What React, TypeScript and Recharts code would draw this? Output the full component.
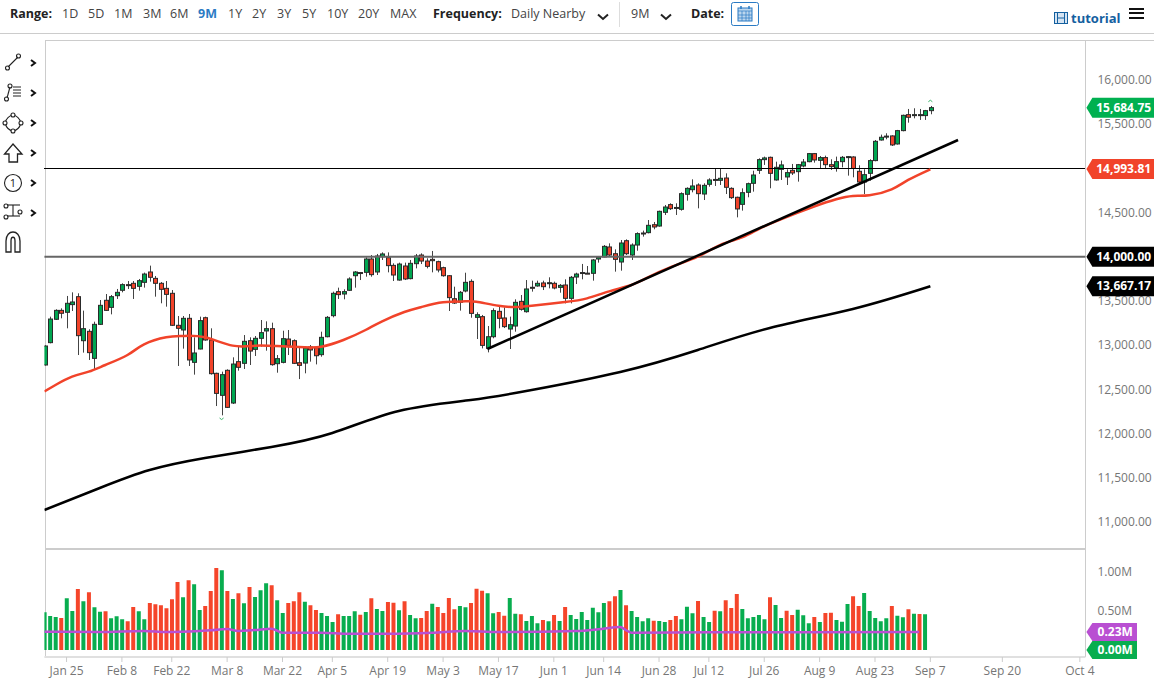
import { ComposedChart, Bar, Line, XAxis, YAxis, Cell, ReferenceLine, ReferenceDot } from "recharts";

const FONT = "'Open Sans', 'Noto Sans', sans-serif";
const GREEN = "#00a651";
const RED = "#f1432a";

// one row per trading day, index 0 is the first bar on the left
const opens = [
  12776, 13029, 13293, 13394, 13372, 13459, 13549, 13051, 13157, 12851, 13236, 13508, 13428, 13560, 13621, 13685, 13700, 13666, 13711, 13828,
  13756, 13700, 13643, 13587, 13225, 13172, 13304, 12806, 12957, 13311, 13059, 12682, 12433, 12716, 12346, 12814, 12795, 13051, 12953, 13078,
  13161, 13187, 12791, 12806, 13070, 13051, 12802, 12798, 12980, 12972, 12893, 13096, 13334, 13606, 13579, 13621, 13786, 13822, 13824, 13975,
  13828, 14001, 13990, 13903, 13737, 13896, 13753, 13922, 14020, 13952, 13971, 13945, 13877, 13786, 13526, 13485, 13613, 13722, 13315, 13323,
  12964, 13096, 13383, 13308, 13183, 13217, 13496, 13379, 13655, 13670, 13704, 13696, 13700, 13654, 13681, 13530, 13771, 13822, 13815, 13813,
  13975, 13998, 14111, 14035, 13941, 14182, 14020, 14133, 14266, 14273, 14363, 14348, 14503, 14590, 14558, 14537, 14707, 14759, 14812, 14710,
  14820, 14875, 14865, 14891, 14774, 14673, 14593, 14729, 14831, 14978, 15099, 15125, 14869, 14989, 14903, 14978, 14963, 15027, 15076, 15167,
  15091, 15122, 15042, 15005, 15076, 15122, 15129, 14967, 14846, 14944, 15088, 15321, 15361, 15367, 15276, 15427, 15608, 15606, 15606, 15597,
  15653,
];
const closes = [
  12991, 13296, 13394, 13361, 13474, 13489, 13108, 13187, 12916, 13236, 13451, 13394, 13549, 13598, 13685, 13680, 13643, 13730, 13805, 13768,
  13700, 13632, 13575, 13225, 13191, 13304, 12833, 12912, 13278, 13059, 12678, 12455, 12667, 12297, 12787, 12750, 13044, 12934, 13078, 13142,
  13187, 12780, 12848, 13074, 12998, 12795, 12772, 12968, 12946, 12881, 13089, 13315, 13587, 13572, 13606, 13749, 13828, 13818, 13975, 13798,
  14009, 14032, 13900, 13794, 13918, 13749, 13926, 14009, 13952, 13892, 13956, 13851, 13786, 13538, 13477, 13598, 13711, 13360, 13345, 12998,
  13096, 13391, 13304, 13210, 13232, 13485, 13406, 13636, 13651, 13700, 13662, 13707, 13647, 13677, 13530, 13768, 13805, 13820, 13813, 13964,
  13994, 14118, 14020, 13971, 14156, 14035, 14133, 14262, 14269, 14356, 14337, 14514, 14563, 14544, 14556, 14714, 14774, 14801, 14714, 14808,
  14869, 14873, 14888, 14786, 14669, 14541, 14725, 14827, 14925, 15099, 15118, 14944, 15012, 15039, 14952, 14948, 15042, 15072, 15167, 15095,
  15122, 15042, 15020, 15076, 15125, 15133, 14999, 14846, 14929, 15088, 15306, 15352, 15365, 15265, 15427, 15600, 15578, 15608, 15608, 15653,
  15687,
];
const highs = [
  13000, 13323, 13406, 13417, 13557, 13598, 13587, 13391, 13180, 13266, 13511, 13579, 13568, 13636, 13700, 13726, 13726, 13749, 13821, 13900,
  13783, 13715, 13726, 13624, 13330, 13330, 13353, 13089, 13323, 13323, 13191, 12689, 12701, 12727, 12863, 12983, 13115, 13089, 13104, 13285,
  13270, 13255, 12889, 13164, 13172, 13066, 12983, 12983, 13002, 12991, 13153, 13330, 13606, 13651, 13632, 13768, 13839, 13828, 13994, 14020,
  14032, 14050, 14050, 13926, 13934, 13934, 13964, 14032, 14039, 13983, 14066, 13956, 13888, 13794, 13662, 13613, 13820, 13745, 13372, 13342,
  13217, 13417, 13443, 13428, 13323, 13519, 13568, 13737, 13730, 13730, 13730, 13768, 13719, 13692, 13745, 13783, 13820, 13919, 13896, 13975,
  14009, 14133, 14152, 14084, 14190, 14197, 14152, 14277, 14296, 14416, 14394, 14522, 14586, 14605, 14605, 14729, 14786, 14876, 14831, 14831,
  14888, 15001, 15001, 14944, 14786, 14680, 14774, 14839, 14974, 15114, 15133, 15133, 15076, 15088, 14990, 15050, 15050, 15106, 15174, 15174,
  15140, 15144, 15103, 15133, 15140, 15140, 15137, 15035, 14990, 15103, 15321, 15382, 15397, 15374, 15435, 15608, 15672, 15680, 15672, 15661,
  15706,
];
const lows = [
  12770, 13021, 13285, 13304, 13191, 13387, 12889, 12916, 12833, 12727, 13229, 13387, 13349, 13523, 13598, 13636, 13523, 13617, 13651, 13719,
  13549, 13474, 13436, 13217, 12765, 12961, 12765, 12667, 12953, 13051, 12667, 12312, 12207, 12290, 12335, 12712, 12731, 12776, 12878, 12983,
  12938, 12768, 12689, 12795, 12889, 12787, 12617, 12682, 12814, 12783, 12870, 13089, 13315, 13523, 13519, 13613, 13651, 13737, 13775, 13775,
  13794, 13964, 13824, 13726, 13730, 13737, 13745, 13869, 13918, 13869, 13824, 13824, 13775, 13387, 13466, 13391, 13598, 13311, 13070, 12964,
  12919, 13078, 13191, 13194, 12957, 13153, 13391, 13368, 13606, 13662, 13624, 13643, 13632, 13594, 13473, 13473, 13692, 13745, 13809, 13730,
  13934, 13994, 14001, 13832, 13843, 14020, 13964, 14069, 14228, 14265, 14311, 14341, 14473, 14529, 14473, 14522, 14635, 14729, 14548, 14642,
  14793, 14801, 14812, 14710, 14654, 14446, 14522, 14673, 14737, 14937, 15039, 14775, 14861, 14869, 14812, 14925, 14850, 15012, 15069, 15065,
  15001, 15001, 14982, 14963, 15012, 14918, 14899, 14812, 14710, 14861, 15080, 15314, 15329, 15253, 15269, 15419, 15517, 15566, 15548, 15548,
  15612,
];

// moving averages are read at a few points along each line
const redAvgIdx = [0, 2, 5, 8, 11, 15, 18, 22, 25, 29, 34, 38, 42, 47, 50, 54, 58, 61, 65, 68, 72, 76, 78, 82, 85, 88, 94, 98, 102, 106, 109, 113, 118, 122, 126, 129, 133, 139, 143, 146, 149, 153, 156, 160];
const redAvg = [12478, 12550, 12644, 12701, 12776, 12889, 13010, 13089, 13104, 13089, 12995, 12995, 12991, 12976, 12983, 13059, 13172, 13270, 13375, 13430, 13485, 13496, 13492, 13447, 13432, 13447, 13488, 13530, 13609, 13681, 13768, 13881, 14001, 14133, 14220, 14314, 14424, 14567, 14650, 14688, 14695, 14763, 14869, 14990];
const blackAvgIdx = [0, 10, 19, 29, 41, 52, 64, 77, 88, 104, 118, 131, 146, 160];
const blackAvg = [11136, 11385, 11588, 11724, 11849, 12007, 12256, 12380, 12493, 12697, 12946, 13195, 13410, 13667];

const volumes = [
  0.483, 0.436, 0.423, 0.41, 0.662, 0.5, 0.782, 0.624, 0.739, 0.547, 0.491, 0.496, 0.406, 0.432, 0.393, 0.368, 0.551, 0.496, 0.393, 0.603,
  0.585, 0.573, 0.534, 0.65, 0.872, 0.675, 0.893, 0.842, 0.513, 0.564, 0.756, 1.051, 1.021, 0.756, 0.654, 0.726, 0.598, 0.808, 0.679, 0.765,
  0.855, 0.829, 0.637, 0.474, 0.603, 0.624, 0.739, 0.62, 0.573, 0.513, 0.474, 0.436, 0.359, 0.457, 0.436, 0.436, 0.496, 0.453, 0.487, 0.662,
  0.526, 0.5, 0.615, 0.607, 0.509, 0.624, 0.449, 0.406, 0.41, 0.5, 0.594, 0.551, 0.474, 0.667, 0.521, 0.564, 0.547, 0.603, 0.786, 0.761,
  0.726, 0.47, 0.487, 0.44, 0.667, 0.466, 0.457, 0.372, 0.436, 0.342, 0.385, 0.368, 0.449, 0.372, 0.551, 0.449, 0.397, 0.487, 0.385, 0.543,
  0.483, 0.603, 0.624, 0.688, 0.769, 0.573, 0.5, 0.423, 0.368, 0.406, 0.376, 0.372, 0.359, 0.385, 0.436, 0.393, 0.556, 0.47, 0.628, 0.423,
  0.359, 0.504, 0.496, 0.637, 0.538, 0.718, 0.526, 0.406, 0.423, 0.449, 0.393, 0.675, 0.577, 0.41, 0.504, 0.449, 0.517, 0.444, 0.342, 0.423,
  0.359, 0.474, 0.479, 0.385, 0.363, 0.59, 0.688, 0.564, 0.731, 0.5, 0.41, 0.368, 0.406, 0.564, 0.44, 0.419, 0.521, 0.466, 0.462, 0.457,
];
// g or r for every volume bar, ten to a row
const volumeSides = [
  "gggrggrgrg",
  "grgggrrggr",
  "rrrrrgrggr",
  "rrgrgrgrgg",
  "grggrrrgrr",
  "gggrgggrgr",
  "ggrrgrggrr",
  "grrrrggrrr",
  "ggrrggrggg",
  "rgrgrggggg",
  "ggrrgrgggg",
  "rggrrgggrg",
  "grgrrrgggg",
  "grggrrgggr",
  "grrgggrrgg",
  "gggrggrgrg",
].join("");
const volAvgIdx = [0, 10, 18, 22, 28, 30, 33, 35, 38, 41, 43, 50, 55, 62, 70, 76, 82, 96, 100, 104, 105, 106, 120, 158];
const volAvg = [0.235, 0.231, 0.244, 0.231, 0.244, 0.252, 0.269, 0.244, 0.256, 0.274, 0.222, 0.222, 0.209, 0.209, 0.222, 0.244, 0.231, 0.244, 0.265, 0.295, 0.256, 0.222, 0.226, 0.231];

const tickIdx = [4, 14, 23, 33, 43, 52, 62, 72, 82, 92, 101, 111, 120, 130, 140, 150, 160, 173, 187];
const tickLabels = ["Jan 25", "Feb 8", "Feb 22", "Mar 8", "Mar 22", "Apr 5", "Apr 19", "May 3", "May 17", "Jun 1", "Jun 14", "Jun 28", "Jul 12", "Jul 26", "Aug 9", "Aug 23", "Sep 7", "Sep 20", "Oct 4"];
const priceTicks = [11000, 11500, 12000, 12500, 13000, 13500, 14000, 14500, 15000, 15500, 16000];
const volumeTicks = [0.5, 1];
const rangeItems: [string, number][] = [["1D", 62], ["5D", 88], ["1M", 114], ["3M", 143], ["6M", 170], ["9M", 198], ["1Y", 228], ["2Y", 252], ["3Y", 277], ["5Y", 302], ["10Y", 327], ["20Y", 358], ["MAX", 390]];

const table = opens.map((open, i) => {
  const r = redAvgIdx.indexOf(i);
  const b = blackAvgIdx.indexOf(i);
  return {
    i,
    open,
    close: closes[i],
    high: highs[i],
    low: lows[i],
    red: r >= 0 ? redAvg[r] : null,
    black: b >= 0 ? blackAvg[b] : null,
  };
});

const volumeTable = volumes.map((volume, i) => {
  const a = volAvgIdx.indexOf(i);
  return { i, volume, avg: a >= 0 ? volAvg[a] : null };
});

// wick and body are placed from the y and height recharts gives the low-high range
function Candle(props: any) {
  const { x, y, width, height, payload } = props;
  if (!payload) return null;
  const { open, close, high, low } = payload;
  const perPoint = height / (high - low);
  const cx = Math.round(x + width / 2) + 0.5;
  const top = y + (high - Math.max(open, close)) * perPoint;
  const bodyHeight = Math.abs(open - close) * perPoint;
  const up = close >= open;
  return (
    <g>
      <line x1={cx} x2={cx} y1={y} y2={y + height} stroke="#444" strokeWidth={1} />
      <rect x={cx - 2} y={top} width={4} height={Math.max(bodyHeight, 1)} fill={up ? GREEN : RED} stroke="#2a2a2a" strokeWidth={1} />
    </g>
  );
}

function Tag({ cx, cy, text, fill, right, size }: any) {
  const x0 = cx + 1;
  const h = size === "small" ? 9 : 10;
  return (
    <g>
      <path d={`M${x0} ${cy} L${x0 + 6} ${cy - h} H${right} V${cy + h} H${x0 + 6} Z`} fill={fill} />
      <text x={(x0 + 7 + right) / 2} y={cy + 4} textAnchor="middle" fill="#fff" fontSize={12} fontWeight={700} fontFamily={FONT}>
        {text}
      </text>
    </g>
  );
}

function Blip({ cx, cy, flip }: any) {
  return <path d={flip ? `M${cx - 2} ${cy - 1} Q${cx} ${cy + 2} ${cx + 2} ${cy - 1}` : `M${cx - 2} ${cy + 1} Q${cx} ${cy - 2} ${cx + 2} ${cy + 1}`} fill="none" stroke="#39b56a" strokeWidth={1} />;
}

function ToolIcons() {
  const s = { fill: "none", stroke: "#222", strokeWidth: 1.1 };
  return (
    <svg width={44} height={240} style={{ position: "absolute", left: 0, top: 40 }}>
      <g {...s}>
        <line x1={8} y1={27} x2={18} y2={17} /><circle cx={7.5} cy={28} r={2} /><circle cx={18.5} cy={16} r={2} />
        <line x1={7} y1={58} x2={10} y2={47} /><circle cx={6.5} cy={59} r={2} /><circle cx={10} cy={46} r={2} />
        <path d="M13 47H21M13 50H21M13 53H21M13 56H21" />
        <path d="M13 75Q19 76 21 83Q19 90 13 91Q7 90 5 83Q7 76 13 75Z" /><circle cx={13} cy={75} r={2} fill="#fff" /><circle cx={21} cy={83} r={2} fill="#fff" /><circle cx={13} cy={91} r={2} fill="#fff" /><circle cx={5} cy={83} r={2} fill="#fff" />
        <path d="M13 104L22 114H17.5V122H9V114H4.5Z" strokeWidth={1.3} />
        <circle cx={13} cy={143} r={8.5} />
        <line x1={7} y1={165} x2={20} y2={165} /><line x1={7} y1={176} x2={20} y2={176} /><line x1={13} y1={165} x2={13} y2={176} />
        <circle cx={6} cy={166} r={2} /><circle cx={6} cy={177} r={2} /><circle cx={20} cy={172} r={2} />
        <path d="M6 212V201C6 189 20 189 20 201V212H15V201C15 196 11 196 11 201V212Z" strokeWidth={1.3} />
      </g>
      <text x={13} y={147} textAnchor="middle" fontSize={11} fontFamily={FONT} fill="#222">1</text>
      <g fill="none" stroke="#111" strokeWidth={2}>
        {[23, 53, 83, 113, 143, 173].map((y) => (
          <path key={y} d={`M31 ${y - 3}L35 ${y}L31 ${y + 3}`} />
        ))}
      </g>
    </svg>
  );
}

function TopBar() {
  const label = { position: "absolute" as const, top: 5, fontSize: 12.5, lineHeight: "18px", whiteSpace: "nowrap" as const, fontFamily: FONT };
  const chevron = (x: number) => (
    <svg width={12} height={8} style={{ position: "absolute", left: x, top: 13 }}>
      <path d="M1 1.5L6 6L11 1.5" fill="none" stroke="#222" strokeWidth={2} />
    </svg>
  );
  return (
    <>
      <div style={{ ...label, left: 10, fontWeight: 700, color: "#222" }}>Range:</div>
      {rangeItems.map(([t, x]) => (
        <div key={t} style={{ ...label, left: x, color: t === "9M" ? "#2b7bc4" : "#444", fontWeight: t === "9M" ? 700 : 400 }}>{t}</div>
      ))}
      <div style={{ ...label, left: 433, fontWeight: 700, color: "#222" }}>Frequency:</div>
      <div style={{ ...label, left: 511, color: "#444" }}>Daily Nearby</div>
      {chevron(597)}
      <div style={{ position: "absolute", left: 619, top: 2, width: 1, height: 25, background: "#ddd" }} />
      <div style={{ ...label, left: 631, color: "#444" }}>9M</div>
      {chevron(660)}
      <div style={{ ...label, left: 691, fontWeight: 700, color: "#222" }}>Date:</div>
      <svg width={29} height={25} style={{ position: "absolute", left: 731, top: 2 }}>
        <rect x={0.5} y={0.5} width={27} height={23} rx={2} fill="#fff" stroke="#2b7bc4" />
        <rect x={7} y={6} width={14} height={13} fill="#bcd6ee" stroke="#2b7bc4" />
        <path d="M7 9H21M11 9V19M15 9V19M18 9V19M7 13H21M7 16H21" stroke="#2b7bc4" strokeWidth={0.7} />
        <path d="M10 4V7M18 4V7" stroke="#2b7bc4" strokeWidth={1.5} />
      </svg>
      <svg width={15} height={13} style={{ position: "absolute", left: 1054, top: 12 }}>
        <rect x={0.5} y={0.5} width={13} height={11} fill="#d6e4f2" stroke="#14609f" />
        <path d="M3.5 1V11M10.5 1V11M3.5 6H10.5" stroke="#14609f" />
      </svg>
      <div style={{ ...label, left: 1071, top: 9, fontSize: 13, fontWeight: 700, color: "#14609f" }}>tutorial</div>
      <div style={{ position: "absolute", left: 1129, top: 8, width: 15, height: 11, borderTop: "2.5px solid #111", borderBottom: "2.5px solid #111", boxSizing: "border-box" }}>
        <div style={{ marginTop: 1.8, height: 2.5, background: "#111" }} />
      </div>
      <div style={{ position: "absolute", left: 0, top: 33, width: 1154, height: 1, background: "#ccc" }} />
      <div style={{ position: "absolute", left: 45, top: 40, width: 1109, height: 1, background: "#ccc" }} />
    </>
  );
}

export default function App() {
  const axisText = { fontSize: 12, fill: "#767676", fontFamily: FONT };
  const priceDomain = [10695, 16452];
  return (
    <div style={{ position: "absolute", left: 0, top: 0, width: 1168, height: 694, background: "#fff", overflow: "hidden" }}>
      <TopBar />
      <ToolIcons />
      <div style={{ position: "absolute", left: 45, top: 40, width: 1041, height: 510, border: "1px solid #ccc", borderBottom: "2px solid #ccc", boxSizing: "border-box" }} />
      <div style={{ position: "absolute", left: 45, top: 550, width: 1041, height: 107, borderLeft: "1px solid #ccc", borderRight: "1px solid #ccc", boxSizing: "border-box" }} />

      <div style={{ position: "absolute", left: 0, top: 0 }}>
        <ComposedChart width={1168} height={550} data={table} margin={{ top: 40, right: 0, bottom: 1, left: 44.4 }}>
          <XAxis dataKey="i" type="number" domain={[0, 188]} hide allowDataOverflow />
          <YAxis
            orientation="right"
            width={82.6}
            domain={priceDomain}
            ticks={priceTicks}
            interval={0}
            axisLine={false}
            tickLine={false}
            tickSize={0}
            tickMargin={12}
            tick={axisText}
            tickFormatter={(v) => Number(v).toLocaleString("en-US", { minimumFractionDigits: 2 })}
          />
          <ReferenceLine y={14993.81} stroke="#000" strokeWidth={1} shapeRendering="crispEdges" />
          <ReferenceLine y={14000} stroke="#666" strokeWidth={2} />
          <Bar dataKey={(d: any) => [d.low, d.high]} barSize={4} shape={<Candle />} isAnimationActive={false} />
          <Line dataKey="black" type="natural" connectNulls stroke="#000" strokeWidth={2.5} dot={false} isAnimationActive={false} />
          <Line dataKey="red" type="natural" connectNulls stroke="#f1432a" strokeWidth={2.5} dot={false} isAnimationActive={false} />
          <ReferenceLine
            segment={[{ x: 80, y: 12957 }, { x: 165, y: 15321 }]}
            stroke="#000"
            strokeWidth={2.5}
            ifOverflow="visible"
          />
          <ReferenceDot x={32} y={12165} ifOverflow="visible" shape={(p: any) => <Blip {...p} flip />} />
          <ReferenceDot x={160} y={15765} ifOverflow="visible" shape={(p: any) => <Blip {...p} />} />
        </ComposedChart>
      </div>

      {/* price tags sit on a chart of their own so they cover the axis labels */}
      <div style={{ position: "absolute", left: 0, top: 0 }}>
        <ComposedChart width={1168} height={550} data={table} margin={{ top: 40, right: 82.6, bottom: 1, left: 44.4 }}>
          <XAxis dataKey="i" type="number" domain={[0, 188]} hide allowDataOverflow />
          <YAxis domain={priceDomain} hide />
          <Line dataKey="close" stroke="none" dot={false} activeDot={false} isAnimationActive={false} />
          <ReferenceDot x={188} y={15684.75} ifOverflow="visible" shape={(p: any) => <Tag {...p} text="15,684.75" fill="#00b050" right={1154} />} />
          <ReferenceDot x={188} y={14993.81} ifOverflow="visible" shape={(p: any) => <Tag {...p} text="14,993.81" fill="#f1432a" right={1154} />} />
          <ReferenceDot x={188} y={14000} ifOverflow="visible" shape={(p: any) => <Tag {...p} text="14,000.00" fill="#000" right={1154} />} />
          <ReferenceDot x={188} y={13667.17} ifOverflow="visible" shape={(p: any) => <Tag {...p} text="13,667.17" fill="#000" right={1154} />} />
        </ComposedChart>
      </div>

      <div style={{ position: "absolute", left: 0, top: 550 }}>
        <ComposedChart width={1168} height={144} data={volumeTable} margin={{ top: 0, right: 0, bottom: 0, left: 44.4 }}>
          <XAxis
            dataKey="i"
            type="number"
            domain={[0, 188]}
            allowDataOverflow
            ticks={tickIdx}
            interval={0}
            height={37}
            tickSize={5}
            tickMargin={4}
            axisLine={{ stroke: "#e0e0e0", strokeWidth: 2 }}
            tickLine={{ stroke: "#ccc" }}
            tick={axisText}
            tickFormatter={(v) => tickLabels[tickIdx.indexOf(v)]}
          />
          <YAxis
            orientation="right"
            width={82.6}
            domain={[-0.0897, 1.282]}
            ticks={volumeTicks}
            interval={0}
            axisLine={false}
            tickLine={false}
            tickSize={0}
            tickMargin={12}
            tick={axisText}
            tickFormatter={(v) => Number(v).toFixed(2) + "M"}
          />
          <Bar dataKey="volume" barSize={4} isAnimationActive={false}>
            {volumeTable.map((row) => (
              <Cell key={row.i} fill={volumeSides[row.i] === "g" ? "#08ad4f" : "#f5452a"} />
            ))}
          </Bar>
          <Line dataKey="avg" type="monotone" connectNulls stroke="#b94fd2" strokeWidth={2.5} dot={false} isAnimationActive={false} />
          <ReferenceDot x={188} y={0.23} ifOverflow="visible" shape={(p: any) => <Tag {...p} text="0.23M" fill="#b94fd2" right={1137} size="small" />} />
          <ReferenceDot x={188} y={0} ifOverflow="visible" shape={(p: any) => <Tag {...p} text="0.00M" fill="#08ad4f" right={1137} size="small" />} />
        </ComposedChart>
      </div>
    </div>
  );
}
